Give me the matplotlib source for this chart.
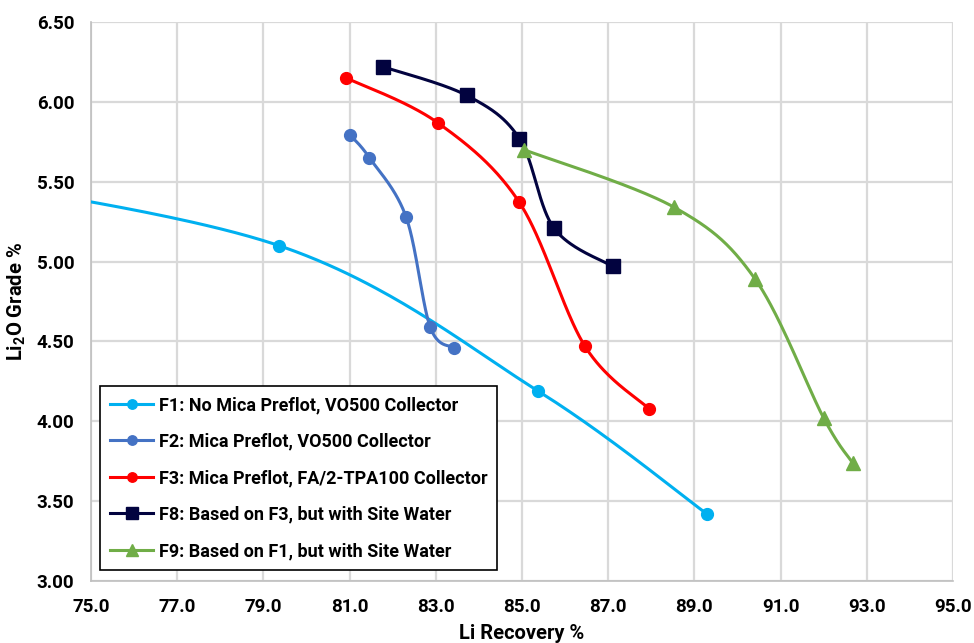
import numpy as np
import matplotlib
matplotlib.use('Agg')
import matplotlib.pyplot as plt
from matplotlib.lines import Line2D
from matplotlib.ticker import FormatStrFormatter, FixedLocator

plt.rcParams['font.family'] = 'Roboto'
plt.rcParams['font.weight'] = 'bold'
plt.rcParams['mathtext.fontset'] = 'custom'
plt.rcParams['mathtext.rm'] = 'Roboto:bold'
plt.rcParams['mathtext.bf'] = 'Roboto:bold'

# data (first F1 point sits left of the visible range)
f1_x = [70.0, 79.36, 85.37, 89.29]
f1_y = [5.60, 5.10, 4.19, 3.42]
f2_x = [81.02, 81.46, 82.31, 82.87, 83.42]
f2_y = [5.79, 5.65, 5.28, 4.59, 4.46]
f3_x = [80.92, 83.04, 84.94, 86.46, 87.94]
f3_y = [6.15, 5.87, 5.37, 4.47, 4.08]
f8_x = [81.77, 83.72, 84.94, 85.74, 87.10]
f8_y = [6.22, 6.04, 5.77, 5.21, 4.97]
f9_x = [85.05, 88.53, 90.41, 92.00, 92.67]
f9_y = [5.70, 5.34, 4.89, 4.02, 3.74]

x_ticks = [75, 77, 79, 81, 83, 85, 87, 89, 91, 93, 95]
y_ticks = [3.0, 3.5, 4.0, 4.5, 5.0, 5.5, 6.0, 6.5]

labels = ['F1: No Mica Preflot, VO500 Collector',
          'F2: Mica Preflot, VO500 Collector',
          'F3: Mica Preflot, FA/2-TPA100 Collector',
          'F8: Based on F3, but with Site Water',
          'F9: Based on F1, but with Site Water']
colors = ['#00B0F0', '#4472C4', '#FF0000', '#02033F', '#70AD47']
markers = ['o', 'o', 'o', 's', '^']
msizes = [8.5, 8.5, 8.5, 10, 10.5]


def smooth(xs, ys, n=60):
    # excel-like smoothing: bezier segments from catmull-rom tangents
    p = np.column_stack([xs, ys]).astype(float)
    out = []
    for i in range(len(p) - 1):
        p0 = p[i - 1] if i > 0 else p[i]
        p1 = p[i]
        p2 = p[i + 1]
        p3 = p[i + 2] if i + 2 < len(p) else p[i + 1]
        c1 = p1 + (p2 - p0) / 6
        c2 = p2 - (p3 - p1) / 6
        t = np.linspace(0, 1, n)[:, None]
        seg = (1 - t) ** 3 * p1 + 3 * t * (1 - t) ** 2 * c1 + 3 * t ** 2 * (1 - t) * c2 + t ** 3 * p2
        out.append(seg)
    out = np.vstack(out)
    return out[:, 0], out[:, 1]


fig = plt.figure(figsize=(9.74, 6.43), dpi=100)
ax = fig.add_axes([91 / 974, 1 - 581 / 643, 862 / 974, 559 / 643])

series = [(f1_x, f1_y), (f2_x, f2_y), (f3_x, f3_y), (f8_x, f8_y), (f9_x, f9_y)]
handles = []
for (xs, ys), c, m, ms, lab in zip(series, colors, markers, msizes, labels):
    sx, sy = smooth(xs, ys)
    ax.plot(sx, sy, color=c, lw=2.2, zorder=3)
    ax.plot(xs, ys, ls='none', marker=m, ms=ms, color=c, zorder=4)
    handles.append(Line2D([], [], color=c, lw=2.2, marker=m, ms=ms * 0.8, label=lab))

ax.set_xlim(75, 95)
ax.set_ylim(3.0, 6.5)
ax.xaxis.set_major_locator(FixedLocator(x_ticks))
ax.yaxis.set_major_locator(FixedLocator(y_ticks))
ax.xaxis.set_major_formatter(FormatStrFormatter('%.1f'))
ax.yaxis.set_major_formatter(FormatStrFormatter('%.2f'))
ax.grid(True, color='#D9D9D9', lw=1.6, zorder=0)
ax.set_axisbelow(True)
for s in ['top', 'right']:
    ax.spines[s].set_visible(False)
for s in ['left', 'bottom']:
    ax.spines[s].set_color('#BFBFBF')
    ax.spines[s].set_linewidth(1.2)
ax.tick_params(length=0, labelsize=13.5, pad=12)

ax.set_xlabel('Li Recovery %', fontsize=14.5, fontweight='bold', labelpad=6)
ax.set_ylabel('Li$_2$O Grade %', fontsize=14.5, fontweight='bold', labelpad=6)

leg = ax.legend(handles=handles, loc='lower left', bbox_to_anchor=(0.0104, 0.0197),
                borderaxespad=0, frameon=True, fancybox=False,
                prop={'family': 'Roboto', 'weight': 'bold', 'size': 13},
                edgecolor='black', framealpha=1, handlelength=2.4, labelspacing=1.02,
                borderpad=0.55, handletextpad=0.3, numpoints=1)
leg.get_frame().set_linewidth(1.2)

fig.savefig('out.png', dpi=100)
